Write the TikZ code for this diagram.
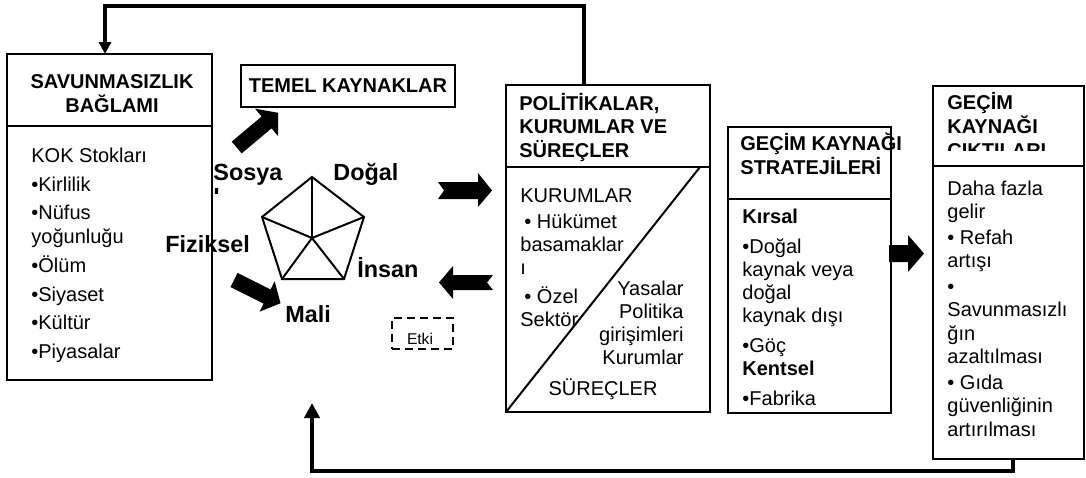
\documentclass[tikz,border=0pt]{standalone}
\usepackage{fontspec}
\setmainfont{Liberation Sans}
\usetikzlibrary{arrows.meta}

\tikzset{
  panel/.style={draw, line width=1pt, inner sep=0pt, outer sep=0pt},
  headtxt/.style={font=\bfseries\fontsize{10}{11.75}\selectfont, inner sep=0pt, align=left},
  bodytxt/.style={font=\fontsize{10}{11.5}\selectfont, inner sep=0pt, align=left},
  captxt/.style={font=\bfseries\fontsize{11.7}{12.5}\selectfont, inner sep=0pt, align=left},
  loopline/.style={line width=2pt},
}

\begin{document}
\begin{tikzpicture}[x=0.5pt, y=-0.5pt]
    \useasboundingbox (0,0) rectangle (1086,477);

    % 脆弱性の枠
    \node[panel, minimum width=102.5pt, minimum height=163pt] (vuln) at (109.5,217) {};
    \draw[line width=1pt] ([yshift=-36pt]vuln.north west) -- ([yshift=-36pt]vuln.north east);
    \node[headtxt, align=center, anchor=base] (vulnhead) at (112,112) {SAVUNMASIZLIK\\BAĞLAMI};
    \node[bodytxt, anchor=base west] (vulnbody) at (31,358) {KOK Stokları\\[3pt]•Kirlilik\\[2.5pt]•Nüfus\\[0.5pt]yoğunluğu\\[3pt]•Ölüm\\[3pt]•Siyaset\\[2.5pt]•Kültür\\[3pt]•Piyasalar};

    % 資本
    \node[panel, headtxt, align=center, minimum width=107pt, minimum height=21pt] (assets) at (348,86) {TEMEL KAYNAKLAR};

    % 政策の枠
    \node[panel, minimum width=102pt, minimum height=163.5pt] (policy) at (608,248.5) {};
    \draw[line width=1pt] ([yshift=-41pt]policy.north west) -- ([yshift=-41pt]policy.north east);
    \draw[line width=1pt] (policy.south west) -- ([xshift=-5pt, yshift=-41pt]policy.north east);
    \node[headtxt, anchor=base west] (policyhead) at (519,157) {POLİTİKALAR,\\KURUMLAR VE\\SÜREÇLER};
    \node[bodytxt, anchor=base west] (inst) at (520,326) {KURUMLAR\\[1.5pt]\hspace{2pt}• Hükümet\\basamaklar\\ı\\[3pt]\hspace{2pt}• Özel\\Sektör};
    \node[bodytxt, align=right, anchor=base east] (laws) at (684,364) {Yasalar\\Politika\\girişimleri\\Kurumlar};
    \node[bodytxt, anchor=base] (proc) at (603,395) {SÜREÇLER};

    % 戦略の枠
    \node[panel, minimum width=81.5pt, minimum height=143pt] (strat) at (809.5,270) {};
    \draw[line width=1pt] ([yshift=-36pt]strat.north west) -- ([yshift=-36pt]strat.north east);
    \node[headtxt, font=\bfseries\fontsize{10}{12}\selectfont, anchor=base west] (strathead) at (740,174) {GEÇİM KAYNAĞI\\STRATEJİLERİ};
    \node[bodytxt, anchor=base west] (stratbody) at (742,405) {\textbf{Kırsal}\\[3.5pt]•Doğal\\kaynak veya\\doğal\\kaynak dışı\\[3.5pt]•Göç\\\textbf{Kentsel}\\[3.5pt]•Fabrika};

    % 成果の枠
    \node[panel, minimum width=75.5pt, minimum height=186.5pt] (outcome) at (1008.5,272.5) {};
    \draw[line width=1pt] ([yshift=-40pt]outcome.north west) -- ([yshift=-40pt]outcome.north east);
    \begin{scope}
        \clip (935,88) rectangle (1082,150);
        \node[headtxt, font=\bfseries\fontsize{10}{12}\selectfont, anchor=base west] (outhead) at (947,157) {GEÇİM\\KAYNAĞI\\ÇIKTILARI};
    \end{scope}
    \node[bodytxt, font=\fontsize{10}{11.75}\selectfont, anchor=base west] (outbody) at (947,436) {Daha fazla\\gelir\\[1pt]• Refah\\artışı\\[1pt]•\\Savunmasızlı\\ğın\\azaltılması\\[1pt]• Gıda\\güvenliğinin\\artırılması};

    % 影響
    \node[bodytxt, font=\fontsize{7.8}{9}\selectfont, anchor=base] (etkitxt) at (420,344) {Etki};
    \node[draw, dashed, dash pattern=on 4pt off 2.5pt, line width=1pt, minimum width=30.5pt, minimum height=15.5pt, inner sep=0pt] (etki) at (422.5,333.5) {};

    % 五角形
    \coordinate (p1) at (312,177);
    \coordinate (p2) at (364,217);
    \coordinate (p3) at (344,279);
    \coordinate (p4) at (282,279);
    \coordinate (p5) at (262,217);
    \coordinate (pc) at (312,238);
    \draw[line width=1pt] (p1) -- (p2) -- (p3) -- (p4) -- (p5) -- cycle;
    \foreach \v in {p1,p2,p3,p4,p5}
        \draw[line width=1pt] (pc) -- (\v);

    % 五角形のラベル
    \begin{scope}
        \clip (200,150) rectangle (300,193);
        \node[captxt, anchor=base west] (social) at (213,205) {Sosya\\l};
    \end{scope}
    \node[captxt, anchor=base west] (natural) at (333,180) {Doğal};
    \node[captxt, anchor=base west] (physical) at (165,252) {Fiziksel};
    \node[captxt, anchor=base west] (human) at (357,277) {İnsan};
    \node[captxt, anchor=base west] (financial) at (285,322) {Mali};

    % ブロック矢印
    \fill[shift={(236.7,147.5)}, rotate=40] (0,-7.7) -- (39,-7.7) -- (39,-18) -- (54,0) -- (39,18) -- (39,7.7) -- (0,7.7) -- cycle;
    \fill[shift={(234,280)}, rotate=-26.5] (0,-7.9) -- (37,-7.9) -- (37,-17) -- (52,0) -- (37,17) -- (37,7.9) -- (0,7.9) -- cycle;
    \fill (438,182) -- (478,182) -- (478,173) -- (492,190.5) -- (478,207) -- (478,199) -- (438,199) -- (444,190.5) -- cycle;
    \fill (493,275) -- (453,275) -- (453,266) -- (439,282.5) -- (453,299) -- (453,290) -- (493,290) -- (487,282.5) -- cycle;
    \fill (889,245) -- (908,245) -- (908,235) -- (924,253.5) -- (908,272) -- (908,262) -- (889,262) -- cycle;

    % フィードバック
    \coordinate (topR) at (584,6);
    \coordinate (topL) at (105,6);
    \draw[loopline, -{Triangle[length=6pt,width=6pt]}] (topR |- policy.north) -- (topR) -- (topL) -- (topL |- vuln.north);
    \coordinate (botR) at (1013,471);
    \coordinate (botL) at (312,471);
    \coordinate (botTip) at (312,403);
    \draw[loopline, -{Triangle[length=7.5pt,width=7.5pt]}] (botR |- outcome.south) -- (botR) -- (botL) -- (botTip);
\end{tikzpicture}
\end{document}
